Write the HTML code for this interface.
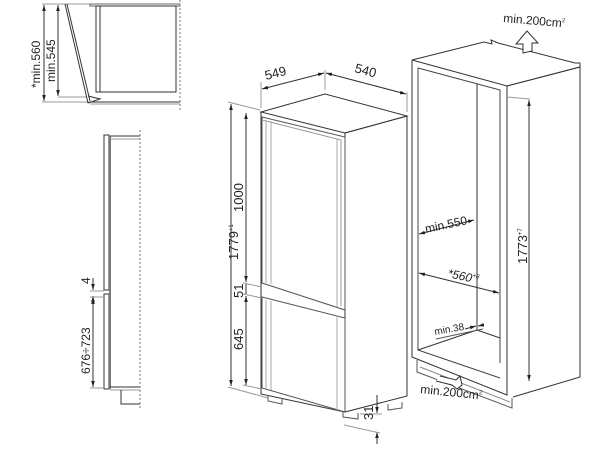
<!DOCTYPE html>
<html><head><meta charset="utf-8"><style>
html,body{margin:0;padding:0;background:#fff;width:600px;height:454px;overflow:hidden}
text{font-family:"Liberation Sans",Arial,sans-serif;fill:#222}
</style></head><body>
<svg width="600" height="454" viewBox="0 0 600 454" xmlns="http://www.w3.org/2000/svg">
<defs>
<marker id="a" viewBox="0 0 10 10" refX="10" refY="5" markerWidth="6" markerHeight="6" orient="auto-start-reverse"><path d="M0,2 L10,5 L0,8z" fill="#222"/></marker>
</defs>
<g fill="none" stroke="#333" stroke-width="1">
<line x1="42" y1="4" x2="90" y2="4" stroke="#999"/>
<line x1="42" y1="102" x2="90" y2="102" stroke="#999"/>
<line x1="58" y1="97" x2="86" y2="97" stroke="#999"/>
<line x1="44" y1="5" x2="44" y2="101" marker-start="url(#a)" marker-end="url(#a)"/>
<line x1="58" y1="5" x2="58" y2="96" marker-start="url(#a)" marker-end="url(#a)"/>
<path d="M65,4 L88,103 M67,4 L90,101"/>
<path d="M88,103 L100,99 L88,96"/>
<path d="M90,4 L180,4 L180,6 L90,6 Z" stroke="#666"/>
<rect x="96" y="6" width="4" height="86"/>
<rect x="100" y="6" width="76" height="86"/>
<line x1="90" y1="102" x2="180" y2="102"/><line x1="90" y1="104" x2="180" y2="104" stroke="#999"/>
<line x1="180" y1="0" x2="180" y2="112" stroke-dasharray="2,2" stroke="#777"/>
<rect x="104" y="135" width="5" height="155"/>
<rect x="104" y="294" width="5" height="95"/>
<line x1="110" y1="136" x2="110" y2="389" stroke="#777" stroke-width="2"/>
<line x1="110" y1="136" x2="140" y2="136"/><line x1="110" y1="139" x2="140" y2="139" stroke="#999"/>
<line x1="110" y1="387" x2="140" y2="387"/><line x1="110" y1="390" x2="140" y2="390" stroke="#999"/>
<path d="M121,390 L121,404 L140,404"/>
<line x1="140" y1="130" x2="140" y2="410" stroke-dasharray="2,2" stroke="#777"/>
<line x1="93" y1="278" x2="93" y2="290" marker-end="url(#a)"/>
<line x1="93" y1="309" x2="93" y2="296" marker-end="url(#a)"/>
<line x1="93" y1="298" x2="93" y2="387" marker-start="url(#a)" marker-end="url(#a)"/>
<line x1="90" y1="291" x2="104" y2="291" stroke="#999"/><line x1="90" y1="297" x2="104" y2="297" stroke="#999"/>
<line x1="90" y1="388" x2="104" y2="388" stroke="#999"/>
<path d="M261,112 L325,94 L407,116 L345,133 Z"/>
<path d="M261,112 L261,394 L345,412 L345,133"/>
<path d="M345,133 L407,116 L407,396 L345,412"/>
<path d="M262,117 L345,137 L345,310 L262,283 Z" stroke="#555"/>
<path d="M262,120 L341,140 L341,306" stroke="#999"/>
<path d="M266,120 L266,283 M271,121 L271,284" stroke="#aaa"/>
<path d="M337,139 L337,307" stroke="#aaa"/>
<path d="M262,297 L345,318 L345,412 L262,388 Z" stroke="#555"/>
<path d="M266,300 L266,389 M271,301 L271,390 M337,316 L337,410" stroke="#aaa"/>
<path d="M268,395 L268,401 L282,404 L282,398 M343,412 L343,417 L358,419 L358,413 M388,404 L388,410 L402,408 L402,402" stroke="#555"/>
<line x1="261" y1="108" x2="261" y2="82" stroke="#999"/>
<line x1="325" y1="90" x2="325" y2="70" stroke="#999"/>
<line x1="407" y1="112" x2="407" y2="92" stroke="#999"/>
<line x1="262" y1="89" x2="324" y2="73" marker-start="url(#a)" marker-end="url(#a)"/>
<line x1="326" y1="73" x2="406" y2="94" marker-start="url(#a)" marker-end="url(#a)"/>
<line x1="231" y1="104" x2="231" y2="386" marker-start="url(#a)" marker-end="url(#a)"/>
<line x1="228" y1="102" x2="260" y2="110" stroke="#999"/>
<line x1="228" y1="387" x2="268" y2="398" stroke="#999"/>
<line x1="246" y1="113" x2="246" y2="282" marker-start="url(#a)" marker-end="url(#a)"/>
<line x1="246" y1="284" x2="246" y2="294" />
<line x1="246" y1="296" x2="246" y2="385" marker-start="url(#a)" marker-end="url(#a)"/>
<line x1="243" y1="283" x2="262" y2="287" stroke="#999"/>
<line x1="243" y1="294" x2="262" y2="298" stroke="#999"/>
<line x1="243" y1="385" x2="262" y2="389" stroke="#999"/>
<line x1="377" y1="395" x2="377" y2="413" marker-end="url(#a)"/>
<line x1="377" y1="444" x2="377" y2="432" marker-end="url(#a)"/>
<line x1="360" y1="414" x2="382" y2="414" stroke="#999"/>
<line x1="344" y1="425" x2="380" y2="433" stroke="#999"/>
<path d="M412,60 L484,42 L492,44 L491,40 L498,43 L575,63 L580,63 L580,67 L507,86 L412,60"/>
<path d="M412,60 L412,357 L507,395 L507,86"/>
<path d="M507,86 L580,67 L580,377 L513,397"/>
<path d="M418,68 L500,90 L500,363 M418,68 L418,350 L500,378" stroke="#444"/>
<line x1="477" y1="84" x2="477" y2="330"/>
<line x1="418" y1="350" x2="477" y2="330"/>
<line x1="477" y1="330" x2="500" y2="338"/>
<path d="M417,360 L417,372 L512,408 L512,398" stroke="#555"/>
<path d="M420,367 L510,402" stroke="#888"/>
<line x1="507" y1="97" x2="530" y2="99" stroke="#999"/>
<line x1="529" y1="100" x2="529" y2="381" marker-start="url(#a)" marker-end="url(#a)"/>
<line x1="419" y1="234" x2="474" y2="220" marker-start="url(#a)" marker-end="url(#a)"/>
<line x1="419" y1="273" x2="499" y2="293" marker-start="url(#a)" marker-end="url(#a)"/>
<line x1="436" y1="339" x2="483" y2="329" stroke="#555"/>
<line x1="465" y1="329" x2="476" y2="326" marker-end="url(#a)"/>
<line x1="483" y1="325" x2="478" y2="326" marker-end="url(#a)"/>
<path d="M523,53 L523,44 L516,44 L527,31 L538,43 L532,43 L532,51 Z" stroke="#333" fill="#fff"/>
<path d="M440,376 L456,380 L460,376 L462,385 L457,389 L452,385 L436,381" stroke="#333" fill="#fff"/>
</g>
<g>
<text transform="translate(40,88) rotate(-90)" font-size="12">*min.560</text>
<text transform="translate(55,82) rotate(-90)" font-size="12">min.545</text>
<text transform="translate(90,284) rotate(-90)" font-size="12">4</text>
<text transform="translate(90,374) rotate(-90)" font-size="12">676÷723</text>
<text transform="translate(266,80) rotate(-14)" font-size="13">549</text>
<text transform="translate(354,72) rotate(15)" font-size="13">540</text>
<text transform="translate(238,260) rotate(-90)" font-size="13">1779<tspan font-size="6" dy="-5">+1</tspan></text>
<text transform="translate(243,212) rotate(-90)" font-size="13">1000</text>
<text transform="translate(243,298) rotate(-90)" font-size="13">51</text>
<text transform="translate(243,350) rotate(-90)" font-size="13">645</text>
<text transform="translate(373,420) rotate(-90)" font-size="13">31</text>
<text transform="translate(503,22) rotate(5)" font-size="12">min.200cm<tspan font-size="6" dy="-5">2</tspan></text>
<text transform="translate(426,233) rotate(-12)" font-size="12">min.550</text>
<text transform="translate(447,277) rotate(12)" font-size="12" font-style="italic">*560<tspan font-size="6" dy="-5">+8</tspan></text>
<text transform="translate(435,335) rotate(-10)" font-size="10">min.38</text>
<text transform="translate(527,264) rotate(-90)" font-size="13">1773<tspan font-size="6" dy="-5">+7</tspan></text>
<text transform="translate(420,393) rotate(6)" font-size="12">min.200cm<tspan font-size="6" dy="-5">2</tspan></text>
</g>
</svg>
</body></html>
